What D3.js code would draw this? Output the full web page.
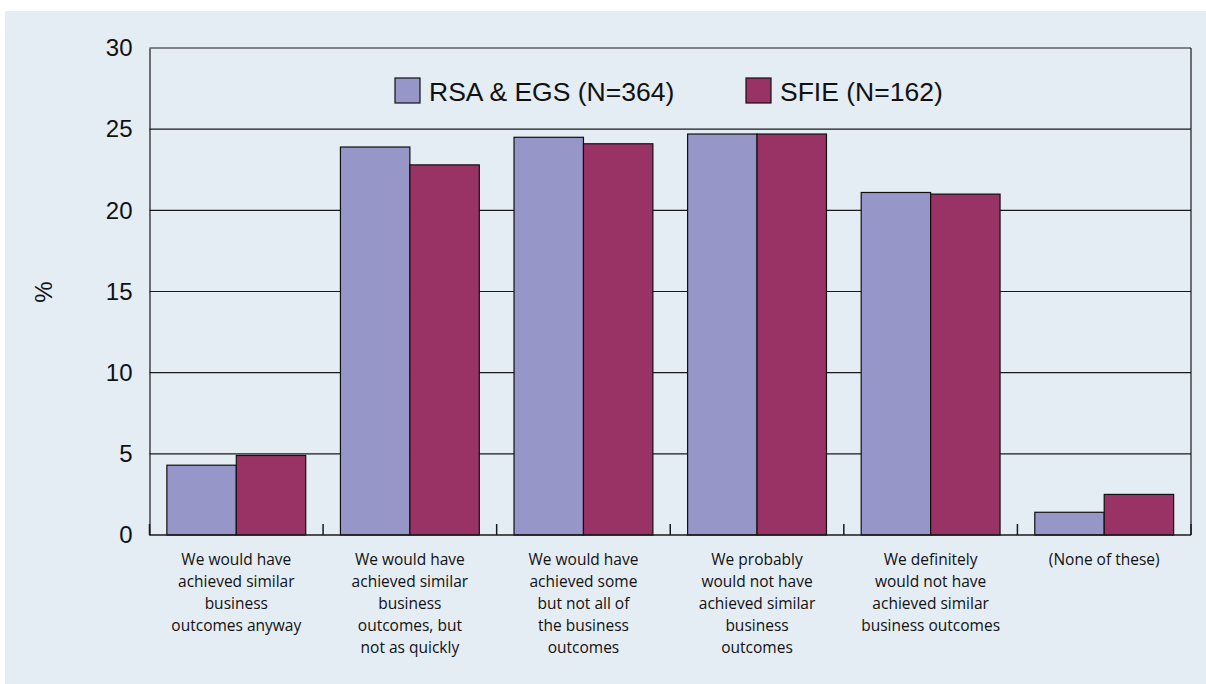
<!DOCTYPE html>
<html><head><meta charset="utf-8">
<script src="https://cdn.jsdelivr.net/npm/d3@7"></script>
<style>
html,body{margin:0;padding:0;background:#fff;}
svg{display:block;}
</style></head>
<body>
<svg id="chart" width="1206" height="684"></svg>
<script>
const categories = [
  ["We would have","achieved similar","business","outcomes anyway"],
  ["We would have","achieved similar","business","outcomes, but","not as quickly"],
  ["We would have","achieved some","but not all of","the business","outcomes"],
  ["We probably","would not have","achieved similar","business","outcomes"],
  ["We definitely","would not have","achieved similar","business outcomes"],
  ["(None of these)"]
];
const seriesNames = ["RSA & EGS (N=364)", "SFIE (N=162)"];
const rsaValues = [4.3, 23.9, 24.5, 24.7, 21.1, 1.4];
const sfieValues = [4.9, 22.8, 24.1, 24.7, 21.0, 2.5];
const yTicks = [0, 5, 10, 15, 20, 25, 30];
const colors = ["#9696c8", "#993366"];

(function(){
const svg = d3.select("#chart");
svg.append("rect").attr("x",5).attr("y",11).attr("width",1201).attr("height",673).attr("fill","#e4ecf4");

const pL = 149.5, pR = 1191, pT = 48, pB = 535;
const x = d3.scaleBand().domain(d3.range(categories.length)).range([pL, pR]).paddingInner(0).paddingOuter(0);
const inner = d3.scaleBand().domain([0,1]).range([0, x.bandwidth()]).paddingOuter(0.25).paddingInner(0);
const y = d3.scaleLinear().domain([0, 30]).range([pB, pT]);

svg.append("g").selectAll("line").data(yTicks.filter(d=>d>0)).join("line")
  .attr("x1", pL).attr("x2", pR).attr("y1", d=>y(d)).attr("y2", d=>y(d))
  .attr("stroke","#1a1a1a").attr("stroke-width",1.2);
svg.append("line").attr("x1",pR).attr("x2",pR).attr("y1",pT).attr("y2",pB).attr("stroke","#1a1a1a").attr("stroke-width",1.2);

const data = [];
categories.forEach((c,i)=>{ data.push({i, s:0, v:rsaValues[i]}); data.push({i, s:1, v:sfieValues[i]}); });
svg.append("g").selectAll("rect").data(data).join("rect")
  .attr("x", d=>x(d.i)+inner(d.s))
  .attr("y", d=>y(d.v))
  .attr("width", inner.bandwidth())
  .attr("height", d=>y(0)-y(d.v))
  .attr("fill", d=>colors[d.s])
  .attr("stroke","#111").attr("stroke-width",1.2);

const yAxis = d3.axisLeft(y).tickValues(yTicks).tickSize(0).tickPadding(17).tickFormat(d3.format("d"));
const ya = svg.append("g").attr("transform",`translate(${pL},0)`).call(yAxis);
ya.select(".domain").attr("stroke","#1a1a1a").attr("stroke-width",1.2);
ya.selectAll("text").attr("font-family","'Liberation Sans', Arial, sans-serif").attr("font-size",24).attr("fill","#111");

const xa = svg.append("g").attr("transform",`translate(0,${pB})`);
xa.append("line").attr("x1",pL).attr("x2",pR).attr("stroke","#1a1a1a").attr("stroke-width",1.5);
xa.selectAll("line.tk").data(d3.range(categories.length+1)).join("line").attr("class","tk")
  .attr("x1", d=> d<categories.length ? x(d) : pR).attr("x2", d=> d<categories.length ? x(d) : pR)
  .attr("y1",0).attr("y2",-11).attr("stroke","#1a1a1a").attr("stroke-width",1.5);

const lab = svg.append("g").selectAll("text").data(categories).join("text")
  .attr("x",(d,i)=>x(i)+x.bandwidth()/2).attr("y",565)
  .attr("text-anchor","middle").attr("font-family","'Open Sans', sans-serif").attr("font-size",15.5).attr("fill","#111");
lab.selectAll("tspan").data(d=>d).join("tspan")
  .attr("x", function(){ return this.parentNode.getAttribute("x"); })
  .attr("dy",(d,j)=> j===0?0:22).text(d=>d);

svg.append("text").attr("transform","translate(52,292) rotate(-90)").attr("text-anchor","middle")
  .attr("font-family","'Liberation Sans', Arial, sans-serif").attr("font-size",24).attr("fill","#111").text("%");

const legX = [395, 746];
const lg = svg.append("g").selectAll("g").data(seriesNames).join("g").attr("transform",(d,i)=>`translate(${legX[i]},78)`);
lg.append("rect").attr("width",25).attr("height",25).attr("fill",(d,i)=>colors[i]).attr("stroke","#111").attr("stroke-width",1.2);
lg.append("text").attr("x",34).attr("y",22.5).attr("font-family","'Liberation Sans', Arial, sans-serif").attr("font-size",26.5).attr("fill","#111").text(d=>d);
})();
</script>
</body></html>
